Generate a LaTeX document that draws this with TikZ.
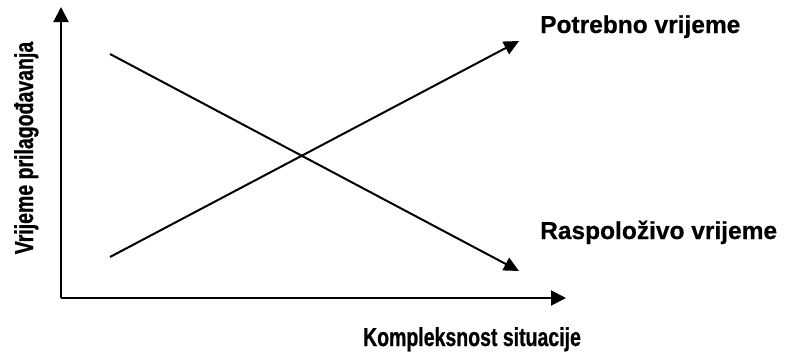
\documentclass[tikz,border=0pt]{standalone}
\usepackage{fontspec}
\setmainfont{Liberation Sans}[BoldFeatures={FakeBold=0.6}]
\newfontfamily\narrowfont{Liberation Sans}[FakeStretch=0.75, BoldFeatures={FakeBold=0.8}]
\usepackage{tikz}
\usetikzlibrary{arrows.meta, positioning}

\begin{document}
\begin{tikzpicture}[
    x=1pt, y=-1pt,
    axis/.style={
      line width=2pt,
      -{Triangle[length=15pt,width=15pt]}
    },
    trend/.style={
      line width=2pt,
      -{Triangle[length=15pt,width=14pt]}
    },
    curvelabel/.style={
      inner sep=0pt,
      anchor=base west,
      font=\fontsize{24.5}{30}\selectfont\bfseries
    },
    axislabel/.style={
      inner sep=0pt,
      anchor=base,
      font=\narrowfont\fontsize{26}{30}\selectfont\bfseries
    }
  ]
    \useasboundingbox (0,0) rectangle (785,354);

    % Axes
    \coordinate (origin) at (61,298);
    \coordinate (ytip) at (61,7);
    \coordinate (xtip) at (566,298);
    \draw [axis] (origin) -- (ytip);
    \draw [axis] (origin) -- (xtip);

    % Axis labels
    \node (xlabel) [axislabel] at (472,346) {Kompleksnost situacije};
    \node (ylabel) [axislabel, rotate=90] at (33,148) {Vrijeme prilagođavanja};

    % Lines
    \coordinate (needstart) at (110,257);
    \coordinate (needend) at (519,41);
    \coordinate (availstart) at (110,54);
    \coordinate (availend) at (519,271);
    \draw [trend] (needstart) -- (needend);
    \draw [trend] (availstart) -- (availend);

    % Line labels
    \node (need) [curvelabel] at (540,33) {Potrebno vrijeme};
    \node (avail) [curvelabel] at (540,239) {Raspoloživo vrijeme};

  \end{tikzpicture}
\end{document}
